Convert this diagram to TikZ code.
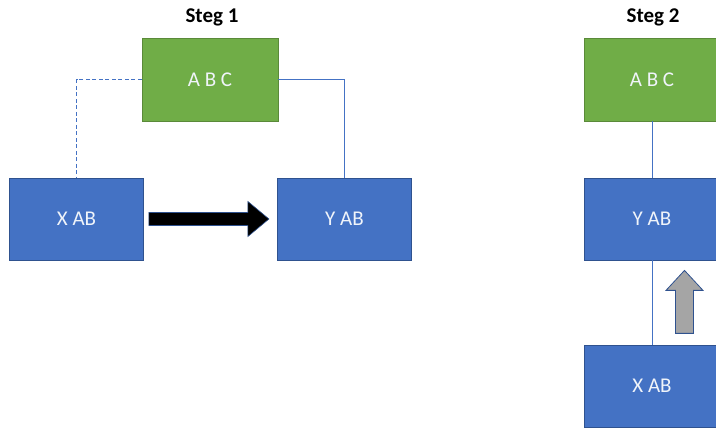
\documentclass[tikz,border=0pt]{standalone}
\usepackage{fontspec}
\setmainfont{Carlito}
\usetikzlibrary{positioning, calc}
\definecolor{officeBlue}{HTML}{4472C4}
\definecolor{officeBlueDark}{HTML}{2F528F}
\definecolor{officeGreen}{HTML}{70AD47}
\definecolor{officeGray}{HTML}{A5A5A5}

\begin{document}
\begin{tikzpicture}[
        x=1pt, y=1pt,
        box/.style={rectangle, draw=officeBlueDark, fill=officeBlue, line width=0.8pt, minimum width=134pt, minimum height=82pt, text=white!92!officeBlue, font=\fontsize{21}{24}\selectfont},
        groupbox/.style={box, draw=officeGreen!80!black, fill=officeGreen, minimum width=136pt, minimum height=83pt},
        title/.style={font=\fontsize{21}{24}\selectfont\bfseries},
        link/.style={officeBlue, line width=0.9pt},
        bigarrow/.style={fill=black, draw=officeBlueDark, line width=0.6pt, line join=miter},
        uparrow/.style={fill=officeGray, draw=officeBlueDark, line width=0.8pt, line join=miter}
    ]
        \useasboundingbox (0,0) rectangle (716,428);
        \clip (0,0) rectangle (716,428);

        % Steg 1
        \node[title] (t1) at (212,411) {Steg 1};
        \node[groupbox] (abc1) at (210,348.5) {A B C};
        \node[box] (xab1) at (76.5,209) {X AB};
        \node[box] (yab1) at (344.5,209) {Y AB};

        \draw[link, dashed, dash pattern=on 4pt off 2.5pt] (abc1.west) -| (xab1.north);
        \draw[link] (abc1.east) -| (yab1.north);

        \draw[bigarrow] ($(xab1.east)+(5,6.5)$) -- ++(99,0) -- ++(0,11) -- ++(21,-17.5)
            -- ++(-21,-17.5) -- ++(0,11) -- ++(-99,0) -- cycle;

        % Steg 2
        \node[title] (t2) at (653,411) {Steg 2};
        \node[groupbox] (abc2) at (652,348.5) {A B C};
        \node[box, minimum width=136pt] (yab2) at (652,209) {Y AB};
        \node[box, minimum width=136pt] (xab2) at (652,42) {X AB};

        \draw[link] (abc2.south) -- (yab2.north);
        \draw[link] (yab2.south) -- (xab2.north);

        \draw[uparrow] ($(yab2.south)+(32.5,-10)$) -- ++(18.5,-20) -- ++(-9.5,0) -- ++(0,-43)
            -- ++(-18,0) -- ++(0,43) -- ++(-9.5,0) -- cycle;
    \end{tikzpicture}
\end{document}
